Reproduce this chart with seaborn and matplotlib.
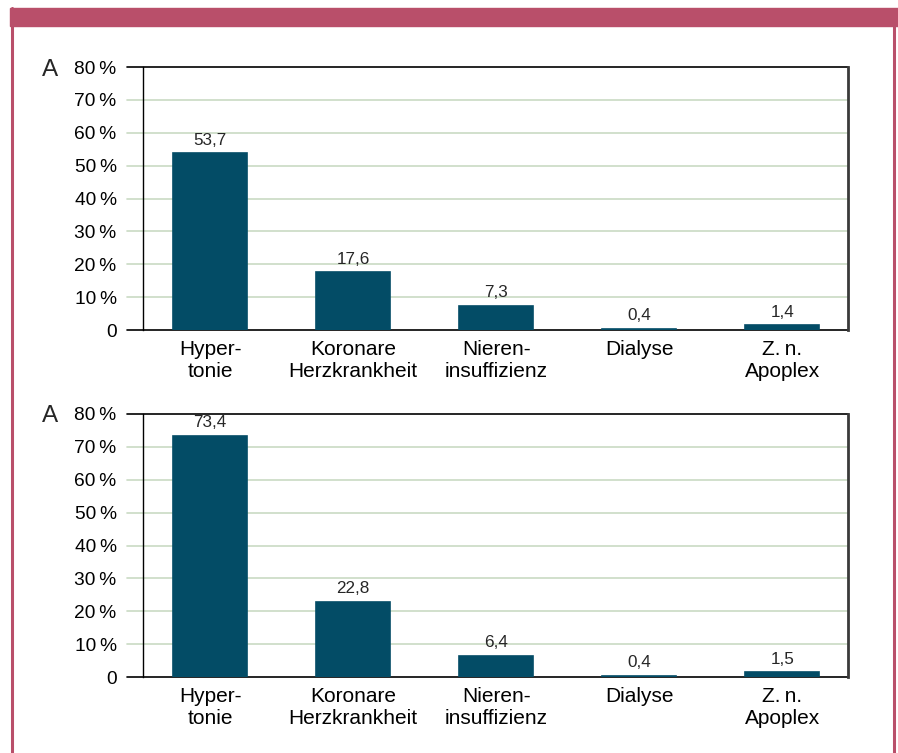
import matplotlib
matplotlib.use("Agg")
import matplotlib.pyplot as plt
import matplotlib.transforms as mtransforms
from matplotlib.lines import Line2D
from matplotlib.patches import Rectangle
import pandas as pd
import seaborn as sns

categories = ["Hyper-\ntonie", "Koronare\nHerzkrankheit", "Nieren-\ninsuffizienz",
              "Dialyse", "Z.\u2009n.\nApoplex"]
values_top = [53.7, 17.6, 7.3, 0.4, 1.4]
values_bottom = [73.4, 22.8, 6.4, 0.4, 1.5]
yticks = [0, 10, 20, 30, 40, 50, 60, 70, 80]
ytick_labels = ["0"] + [f"{v}\u2009%" for v in yticks[1:]]
panel_label = "A"

sns.set_style("white")
plt.rcParams["font.family"] = ["Liberation Sans", "DejaVu Sans"]

BAR = "#034C66"
GRID = "#C9DAC3"
ROSE = "#B94F6A"

W, H = 898, 753
fig = plt.figure(figsize=(W / 100, H / 100), dpi=100)

# frame: rose band on top, thin rose lines left and right
fig.add_artist(Rectangle((10 / W, 1 - 26 / H), 888 / W, 18 / H,
                         transform=fig.transFigure, color=ROSE, zorder=0))
fig.add_artist(Line2D([11.5 / W] * 2, [0, 1 - 8 / H], transform=fig.transFigure,
                      color=ROSE, lw=2.2))
fig.add_artist(Line2D([894 / W] * 2, [0, 1 - 26 / H], transform=fig.transFigure,
                      color=ROSE, lw=2.2))

left, width = 143 / W, 705 / W
axes_pos = [[left, 1 - 330 / H, width, 263 / H],
            [left, 1 - 677 / H, width, 263 / H]]

for pos, values in zip(axes_pos, [values_top, values_bottom]):
    ax = fig.add_axes(pos)
    df = pd.DataFrame({"cat": categories, "val": values})
    sns.barplot(data=df, x="cat", y="val", color=BAR, width=0.52,
                saturation=1, edgecolor=BAR, linewidth=1.2, ax=ax)
    ax.set_xlim(-0.47, 4.46)
    ax.set_ylim(0, 80)
    ax.set_yticks(yticks, ytick_labels)
    ax.set_xlabel("")
    ax.set_ylabel("")
    ax.tick_params(axis="y", length=0, pad=19, labelsize=13.8, colors="black")
    ax.tick_params(axis="x", length=0, pad=7, labelsize=15, colors="black")

    ax.spines["top"].set_visible(False)
    ax.spines["bottom"].set_visible(False)
    ax.spines["left"].set_color("black")
    ax.spines["left"].set_linewidth(1.0)
    ax.spines["right"].set_color("#3a3a3a")
    ax.spines["right"].set_linewidth(2.0)

    ext = 16 / 705
    for y in yticks:
        c = "black" if y in (0, 80) else GRID
        ax.axhline(y, xmin=-ext, xmax=1, color=c, lw=1.2, clip_on=False,
                   zorder=0.5)

    ax.bar_label(ax.containers[0],
                 labels=[f"{v:.1f}".replace(".", ",") for v in values],
                 padding=4, fontsize=12.3)

    trans = mtransforms.blended_transform_factory(ax.transAxes, ax.transData)
    ax.text(-0.143, 80, panel_label, transform=trans, ha="left",
            va="center_baseline", fontsize=17.5)

fig.savefig("out.png", dpi=100, facecolor="white")
